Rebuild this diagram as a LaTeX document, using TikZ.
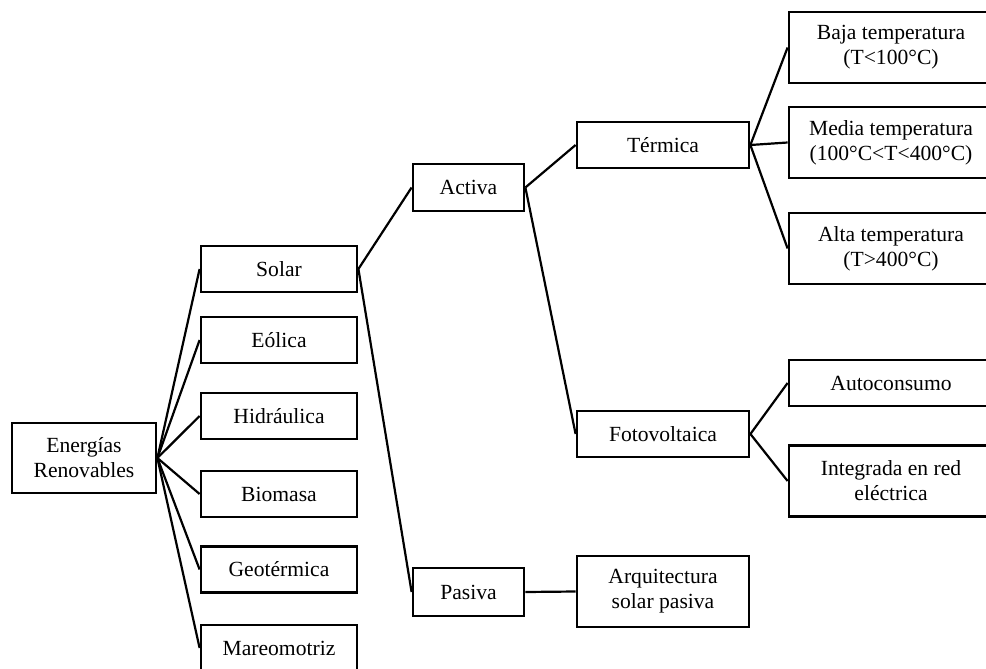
\documentclass[tikz,border=0pt]{standalone}
\usepackage{fontspec}
\setmainfont{Liberation Serif}
\begin{document}
\begin{tikzpicture}[x=.5pt,y=-.5pt,
	caja/.style={draw,line width=1.4pt,align=center,inner sep=0pt,
		font=\fontsize{10.8}{12.5}\selectfont},
	rama/.style={line width=1.1pt}]
			\useasboundingbox (0,0) rectangle (986,669);
			\clip (0,0) rectangle (986,669);
			\def\h{23pt} % alto de caja simple
			\def\hh{35.5pt} % alto de caja doble
			% raiz
			\node[caja,minimum width=72pt,minimum height=35pt] (E) at (84,458) {Energías\\Renovables};
			% fuentes
			\foreach \n/\y/\t in {S1/269/Solar,S2/340/Eólica,S3/416/Hidráulica,
				S4/494/Biomasa,S5/569.5/Geotérmica,S6/648/Mareomotriz}
			\node[caja,minimum width=78pt,minimum height=\h] (\n) at (279,\y) {\t};
			\node[caja,minimum width=55.5pt,minimum height=23.5pt] (A) at (468.5,187.5) {Activa};
			\node[caja,minimum width=55.5pt,minimum height=24pt] (P) at (468.5,592) {Pasiva};
			\node[caja,minimum width=86pt,minimum height=\h] (T) at (663,145) {Térmica};
			\node[caja,minimum width=86pt,minimum height=\h] (F) at (663,434) {Fotovoltaica};
			\node[caja,minimum width=86pt,minimum height=\hh] (Q) at (663,591.5) {Arquitectura\\solar pasiva};
			% ultimo nivel
			\node[caja,minimum width=102pt,minimum height=\hh] (T1) at (891,47.5) {Baja temperatura\\(T<100°C)};
			\node[caja,minimum width=102pt,minimum height=\hh] (T2) at (891,142.5) {Media temperatura\\(100°C<T<400°C)};
			\node[caja,minimum width=102pt,minimum height=\hh] (T3) at (891,248.5) {Alta temperatura\\(T>400°C)};
			\node[caja,minimum width=102pt,minimum height=\h] (F1) at (891,383) {Autoconsumo};
			\node[caja,minimum width=102pt,minimum height=\hh] (F2) at (891,481) {Integrada en red\\eléctrica};
			% ramas
			\foreach \i in {1,...,6}
			\draw[rama] (E.east)--(S\i.west);
			\foreach \a/\b in {S1/A,S1/P,A/T,A/F,P/Q,T/T1,T/T2,T/T3,F/F1,F/F2}
			\draw[rama] (\a.east)--(\b.west);
	\end{tikzpicture}
\end{document}
